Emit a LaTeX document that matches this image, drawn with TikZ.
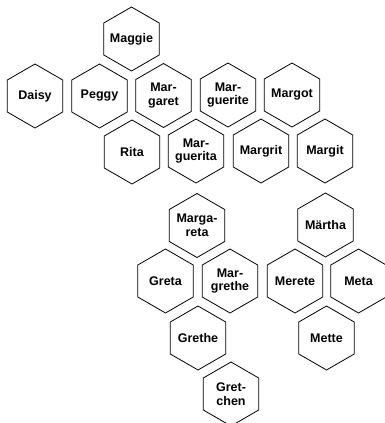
\documentclass[tikz,border=0pt]{standalone}
\usepackage{fontspec}
\setmainfont{Liberation Sans}
\usetikzlibrary{shapes.geometric}

\tikzset{
    hexname/.style={draw, line width=0.8pt, shape=regular polygon, regular polygon sides=6,
        shape border rotate=30, minimum size=64pt, inner sep=-10pt, align=center,
        font=\fontsize{12.5}{13.5}\selectfont\bfseries}
}

\begin{document}
\begin{tikzpicture}[x=1pt, y=-1pt]
    \clip (0,0) rectangle (385,423);

    \node[hexname] (maggie) at (131.5,39) {Maggie};

    \node[hexname] (daisy) at (35,96) {Daisy};
    \node[hexname] (peggy) at (99.5,96) {Peggy};
    \node[hexname] (margaret) at (163.5,95.5) {Mar-\\garet};
    \node[hexname] (marguerite) at (228,95) {Mar-\\guerite};
    \node[hexname] (margot) at (292,95) {Margot};

    \node[hexname] (rita) at (132,152) {Rita};
    \node[hexname] (marguerita) at (196,151) {Mar-\\guerita};
    \node[hexname] (margrit) at (261,151) {Margrit};
    \node[hexname] (margit) at (325,151) {Margit};

    \node[hexname] (margareta) at (197,225.5) {Marga-\\reta};
    \node[hexname] (martha) at (325.5,225) {Märtha};

    \node[hexname] (greta) at (165.5,281) {Greta};
    \node[hexname] (margrethe) at (230,281) {Mar-\\grethe};
    \node[hexname] (merete) at (295,281) {Merete};
    \node[hexname] (meta) at (358.5,281) {Meta};

    \node[hexname] (grethe) at (198,338) {Grethe};
    \node[hexname] (mette) at (326.5,338) {Mette};

    \node[hexname] (gretchen) at (231,394) {Gret-\\chen};
\end{tikzpicture}
\end{document}
